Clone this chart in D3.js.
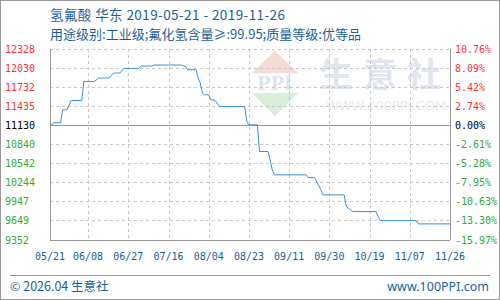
<!DOCTYPE html>
<meta charset="utf-8">
<style>
  body { margin: 0; background: #fff; }
  svg { display: block; font-family: "Noto Sans CJK SC", "Noto Sans", sans-serif; }
</style>
<script src="https://d3js.org/d3.v7.min.js"></script>
<div id="chart"></div>
<script>
// price data (date, yuan/ton)
var dates = ["2019-05-21","2019-05-23","2019-05-26","2019-05-27","2019-05-29","2019-05-31","2019-06-05","2019-06-06",
  "2019-06-11","2019-06-13","2019-06-18","2019-06-19","2019-06-20","2019-06-23","2019-06-25","2019-07-02","2019-07-03",
  "2019-07-08","2019-07-09","2019-07-22","2019-07-24","2019-07-25","2019-07-29","2019-07-30","2019-07-31","2019-08-01",
  "2019-08-02","2019-08-04","2019-08-05","2019-08-07","2019-08-09","2019-08-21","2019-08-22","2019-08-23","2019-08-27",
  "2019-08-28","2019-09-01","2019-09-02","2019-09-03","2019-09-04","2019-09-19","2019-09-20","2019-09-23","2019-09-26",
  "2019-09-27","2019-10-07","2019-10-08","2019-10-11","2019-10-22","2019-10-24","2019-11-10","2019-11-11","2019-11-26"];
var prices = [11130,11180,11180,11380,11380,11526,11526,11823,
  11823,11876,11876,11916,11954,11954,12025,12025,12063,
  12063,12078,12078,12057,12005,12005,11876,11798,11642,
  11615,11615,11537,11527,11433,11430,11199,11147,11147,
  10731,10731,10601,10445,10367,10367,10325,10325,10133,
  10055,10055,9873,9795,9795,9654,9654,9603,9603];

var yTicks = [12328,12030,11732,11435,11130,10840,10542,10244,9947,9649,9352];
var pctTicks = ["10.76%","8.09%","5.42%","2.74%","0.00%","-2.61%","-5.28%","-7.95%","-10.63%","-13.30%","-15.97%"];
var xTicks = ["2019-05-21","2019-06-08","2019-06-27","2019-07-16","2019-08-04","2019-08-23","2019-09-11",
  "2019-09-30","2019-10-19","2019-11-07","2019-11-26"];
var basePrice = 11130;

var W = 500, H = 300;
var pL = 50, pR = 450, pT = 49, pB = 240;
var parse = d3.timeParse("%Y-%m-%d");
var data = dates.map(function(d, i) { return { date: parse(d), price: prices[i] }; });

var svg = d3.select("#chart").append("svg").attr("width", W).attr("height", H);

svg.append("rect").attr("x", 0.5).attr("y", 0.5).attr("width", W - 1).attr("height", H - 1)
  .attr("fill", "#fff").attr("stroke", "#999");

var x = d3.scaleTime().domain([parse(xTicks[0]), parse(xTicks[xTicks.length - 1])]).range([pL, pR]);
var yIdx = d3.scaleLinear().domain([0, yTicks.length - 1]).range([pT, pB]);
// value scale: tick labels are evenly spaced, so map the ends
var y = d3.scaleLinear().domain([yTicks[yTicks.length - 1], yTicks[0]]).range([pB, pT]);

// watermark
var wm = svg.append("g");
wm.append("path").attr("d", "M252,73 L275,51 L298,73 Z").attr("fill", "#f7d9d6");
wm.append("path").attr("d", "M252,93 L298,93 L275,116 Z").attr("fill", "#d8eedb");
wm.append("text").attr("x", 275).attr("y", 90).attr("text-anchor", "middle")
  .attr("font-family", "Liberation Serif, serif").attr("font-weight", "bold").attr("font-size", 22)
  .attr("fill", "#dfe3ee").text("PPI");
wm.append("text").attr("x", 385).attr("y", 87).attr("text-anchor", "middle")
  .attr("font-size", 34).attr("font-weight", "bold").attr("fill", "#e1e5ee").attr("letter-spacing", 10).text("生意社");
wm.append("text").attr("x", 386).attr("y", 110).attr("text-anchor", "middle")
  .attr("font-family", "DejaVu Sans, sans-serif").attr("font-size", 13).attr("fill", "#ececec").text("WWW.100PPI.COM");

// grid
var grid = svg.append("g").attr("stroke", "#c8c8c8").attr("stroke-dasharray", "3,3").attr("shape-rendering", "crispEdges");
yTicks.forEach(function(t, i) {
  grid.append("line").attr("x1", pL).attr("x2", pR).attr("y1", yIdx(i)).attr("y2", yIdx(i));
});
xTicks.forEach(function(t) {
  var xx = Math.round(x(parse(t)));
  grid.append("line").attr("x1", xx).attr("x2", xx).attr("y1", pT).attr("y2", pB);
});

// axes frame
var frame = svg.append("g").attr("stroke", "#999").attr("shape-rendering", "crispEdges");
frame.append("line").attr("x1", pL).attr("x2", pL).attr("y1", pT).attr("y2", pB);
frame.append("line").attr("x1", pR).attr("x2", pR).attr("y1", pT).attr("y2", pB);
frame.append("line").attr("x1", pL).attr("x2", pR).attr("y1", pB).attr("y2", pB);
frame.append("line").attr("x1", pL).attr("x2", pR).attr("y1", y(basePrice)).attr("y2", y(basePrice));

// price line
svg.append("path").datum(data)
  .attr("fill", "none").attr("stroke", "#3a92d4").attr("stroke-width", 1)
  .attr("d", d3.line().x(function(d) { return x(d.date); }).y(function(d) { return y(d.price); }));

// y labels
function tickColor(i) {
  if (yTicks[i] > basePrice) return "#ff3333";
  if (yTicks[i] < basePrice) return "#33aa33";
  return "#000";
}
var mono = "DejaVu Sans Mono, monospace";
yTicks.forEach(function(t, i) {
  svg.append("text").attr("x", 5).attr("y", yIdx(i)).attr("dy", "0.35em")
    .attr("font-family", mono).attr("font-size", 10).attr("fill", tickColor(i)).text(t);
  svg.append("text").attr("x", 455).attr("y", yIdx(i)).attr("dy", "0.35em")
    .attr("font-family", mono).attr("font-size", 10).attr("fill", tickColor(i)).text(pctTicks[i]);
});

// x labels
var fmt = d3.timeFormat("%m/%d");
xTicks.forEach(function(t) {
  svg.append("text").attr("x", x(parse(t))).attr("y", 256).attr("dy", "0.35em").attr("text-anchor", "middle")
    .attr("font-family", mono).attr("font-size", 10).attr("fill", "#1a5f94").text(fmt(parse(t)));
});

// titles
svg.append("text").attr("x", 50).attr("y", 20).attr("font-size", 13.5).attr("fill", "#1d5f95")
  .attr("textLength", 235).attr("lengthAdjust", "spacing")
  .text("氢氟酸 华东 2019-05-21 - 2019-11-26");
svg.append("text").attr("x", 50).attr("y", 39).attr("font-size", 13).attr("fill", "#1d5f95")
  .attr("textLength", 311).attr("lengthAdjust", "spacing")
  .text("用途级别:工业级;氟化氢含量≥:99.95;质量等级:优等品");

// footer
svg.append("line").attr("x1", 10).attr("x2", 490).attr("y1", 275.5).attr("y2", 275.5).attr("stroke", "#999");
svg.append("text").attr("x", 10).attr("y", 291).attr("font-size", 12.5).attr("fill", "#1d5f95").text("© 2026.04 生意社");
svg.append("text").attr("x", 489).attr("y", 291).attr("text-anchor", "end").attr("font-size", 12.5)
  .attr("font-family", "Noto Sans, sans-serif").attr("fill", "#1d5f95").text("www.100PPI.com");
</script>
